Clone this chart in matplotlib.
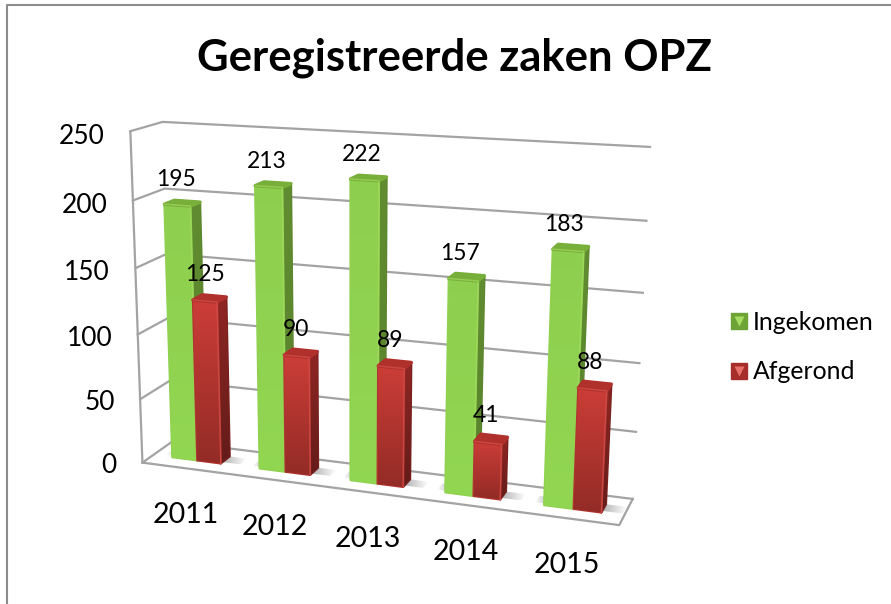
import matplotlib
matplotlib.use('Agg')
import matplotlib.pyplot as plt
from matplotlib.lines import Line2D
from matplotlib.legend_handler import HandlerTuple
from matplotlib.patches import Polygon
import numpy as np

years = ['2011', '2012', '2013', '2014', '2015']
ingekomen = [195, 213, 222, 157, 183]
afgerond = [125, 90, 89, 41, 88]
series_names = ['Ingekomen', 'Afgerond']
value_ticks = [0, 50, 100, 150, 200, 250]

GRID = '#a3a3a3'
FONT = 'Lato'
VMAX = 250.0
D0, D1 = 0.36, 0.68

# corners of the 3D box as drawn: (category pos, value, depth) -> pixel
BOX = [((0, 0, 0), (143, 462)),
       ((0, VMAX, 0), (130, 131)),
       ((0, 0, 1), (172, 442)),
       ((0, VMAX, 1), (163, 122)),
       ((5, 0, 1), (633, 498)),
       ((5, VMAX, 1), (650, 147)),
       ((5, 0, 0), (619, 526))]


def fit_projection(pairs):
    """Least squares camera matrix (DLT) from box corners."""
    rows = []
    for (x, v, d), (px, py) in pairs:
        p = [x, v / VMAX, d, 1]
        rows.append(p + [0, 0, 0, 0] + [-px * c for c in p])
        rows.append([0, 0, 0, 0] + p + [-py * c for c in p])
    return np.linalg.svd(np.array(rows, float))[2][-1].reshape(3, 4)


CAM = fit_projection(BOX)


def project(x, v, d):
    q = CAM @ np.array([x, v / VMAX, d, 1.0])
    return q[0] / q[2], q[1] / q[2]


def clipped_image(ax, pts, img):
    poly = Polygon(pts, closed=True, fc='none', ec='none', zorder=ax.zcount)
    ax.add_patch(poly)
    xs, ys = zip(*pts)
    im = ax.imshow(img, extent=(min(xs), max(xs), max(ys), min(ys)), aspect='auto',
                   interpolation='bilinear', zorder=ax.zcount)
    im.set_clip_path(poly)
    ax.zcount += 1


def gradient_face(ax, pts, top, bottom):
    top, bottom = np.array(top), np.array(bottom)
    t = np.linspace(0, 1, 64)[:, None, None]
    ax.add_patch(Polygon(pts, closed=True, fc='none', ec=tuple((top + bottom) / 2), lw=1.6,
                         joinstyle='round', zorder=ax.zcount))
    clipped_image(ax, pts, top[None, None, :] + t * (bottom - top)[None, None, :])


def floor_shadow(ax, x_start, x_end):
    # grey fading away from the foot of the bar
    pts = [project(x_start, 0, D0 + 0.06), project(x_end, 0, D0 + 0.06),
           project(x_end, 0, D1), project(x_start, 0, D1)]
    alpha = np.linspace(0.55, 0.0, 32)
    if x_end < x_start:
        alpha = alpha[::-1]
    img = np.zeros((1, 32, 4))
    img[..., :3] = 0.45
    img[..., 3] = alpha
    clipped_image(ax, pts, img)


def draw_bar(ax, x0, x1, v, style):
    front = [project(x0, v, D0), project(x1, v, D0), project(x1, 0, D0), project(x0, 0, D0)]
    side = [project(x1, v, D0), project(x1, v, D1), project(x1, 0, D1), project(x1, 0, D0)]
    top = [project(x0, v, D0), project(x1, v, D0), project(x1, v, D1), project(x0, v, D1)]
    gradient_face(ax, side, style['side_top'], style['side_bottom'])
    gradient_face(ax, front, style['front_top'], style['front_bottom'])
    ax.add_patch(Polygon(top, fc=style['cap'], ec=style['cap'], lw=2.4, joinstyle='round', zorder=ax.zcount))
    ax.zcount += 1
    # thin bevel along the top and right of the front face
    ax.plot(*zip(front[0], front[1], front[2]), color=style['bevel'], lw=1.0, alpha=0.7,
            solid_joinstyle='round', zorder=ax.zcount)
    ax.zcount += 1


GREEN = dict(front_top=(0.56, 0.81, 0.31), front_bottom=(0.57, 0.84, 0.32),
             side_top=(0.38, 0.55, 0.19), side_bottom=(0.35, 0.51, 0.17), cap='#78ae3a', bevel='#a4dc60')
RED = dict(front_top=(0.80, 0.24, 0.22), front_bottom=(0.58, 0.17, 0.15),
           side_top=(0.56, 0.15, 0.14), side_bottom=(0.39, 0.11, 0.10), cap='#b0302c', bevel='#d8524c')

fig = plt.figure(figsize=(8.91, 6.04), dpi=100)
ax = fig.add_axes([0, 0, 1, 1])
ax.zcount = 3

# chart border, only left and top show
ax.plot([6.5, 6.5, 891], [604, 4.5, 4.5], color='#8c8c8c', lw=1.5, zorder=1)

# walls and floor
for v in value_ticks:
    pts = [project(0, v, 0), project(0, v, 1), project(5, v, 1)]
    ax.plot(*zip(*pts), color=GRID, lw=1.6, zorder=2)
    px, py = project(0, v, 0)
    ax.text(px - 25.5, py + 3 + v / 125, str(v), ha='right', va='center', fontsize=19, family=FONT, zorder=50)
ax.plot(*zip(project(0, 0, 0), project(0, VMAX, 0)), color=GRID, lw=1.6, zorder=2)
floor = [project(0, 0, 0), project(5, 0, 0), project(5, 0, 1)]
ax.plot(*zip(*floor), color=GRID, lw=1.6, zorder=2)

# bars
for i, year in enumerate(years):
    floor_shadow(ax, i + 0.22, i + 0.12)
    floor_shadow(ax, i + 0.78, i + 0.98)
    draw_bar(ax, i + 0.22, i + 0.51, ingekomen[i], GREEN)
    draw_bar(ax, i + 0.51, i + 0.78, afgerond[i], RED)
    for x, v in ((i + 0.35, ingekomen[i]), (i + 0.65, afgerond[i])):
        px, py = project(x, v, 0.55)
        ax.text(px - 6, py - 23, str(v), ha='center', va='center', fontsize=16.5, family=FONT, zorder=60)
    px, py = project(i + 0.5, 0, 0)
    ax.text(px, py + 47, year, ha='center', va='center', fontsize=20.5, family=FONT, zorder=50)

ax.text(454, 58, 'Geregistreerde zaken OPZ', ha='center', va='center', fontsize=31.4,
        fontweight='bold', family=FONT, zorder=50)

handles = []
for base, light in (('#6ea336', '#a6dc62'), ('#a52e2a', '#e8706a')):
    handles.append((Line2D([], [], ls='none', marker='s', ms=11.5, mfc=base, mec=base),
                    Line2D([], [], ls='none', marker='v', ms=7, mfc=light, mec='none')))
ax.legend(handles, series_names, handler_map={tuple: HandlerTuple(ndivide=1, pad=0)},
          loc='center left', bbox_to_anchor=(727 / 891, 1 - 347 / 604), frameon=False,
          prop={'family': FONT, 'size': 17.8}, handlelength=1.0, handletextpad=0.05,
          labelspacing=1.08, borderpad=0, borderaxespad=0)

ax.set_xlim(0, 891)
ax.set_ylim(604, 0)
ax.axis('off')
fig.savefig('out.png', dpi=100)
